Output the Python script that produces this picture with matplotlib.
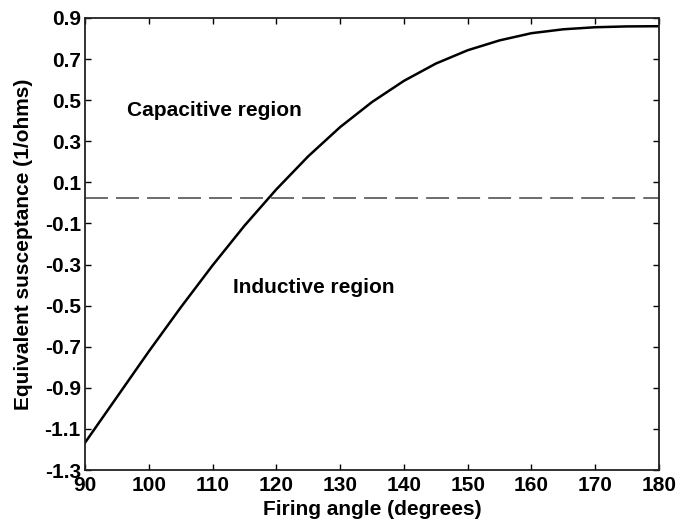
import matplotlib
matplotlib.use("Agg")
import matplotlib.pyplot as plt
import numpy as np

# firing angle (deg) vs equivalent susceptance (1/ohms)
angle = [90, 95, 100, 105, 110, 115, 120, 125, 130, 135, 140, 145, 150,
         155, 160, 165, 170, 175, 180]
suscept = [-1.167, -0.945, -0.723, -0.509, -0.304, -0.111, 0.066, 0.227,
           0.369, 0.491, 0.594, 0.678, 0.743, 0.791, 0.826, 0.845, 0.855,
           0.859, 0.860]
boundary = 0.026
xticks = list(range(90, 181, 10))
yticks = [-1.3, -1.1, -0.9, -0.7, -0.5, -0.3, -0.1, 0.1, 0.3, 0.5, 0.7, 0.9]

plt.rcParams.update({"font.family": ["Liberation Sans", "DejaVu Sans"],
                     "font.weight": "bold", "font.size": 15})

fig = plt.figure(figsize=(6.78, 5.23), dpi=100)
ax = fig.add_axes([0.1254, 0.1013, 0.972 - 0.1254, 0.9656 - 0.1013])

ax.plot(angle, suscept, color="black", lw=1.8)
ax.plot([90, 180], [boundary, boundary], color="#444444", lw=1.1,
        dashes=(15, 5.3))

ax.text(96.6, 0.452, "Capacitive region", fontsize=15, fontweight="bold",
        va="center", ha="left")
ax.text(113.2, -0.414, "Inductive region", fontsize=15, fontweight="bold",
        va="center", ha="left")

ax.set_xlim(90, 180)
ax.set_ylim(-1.3, 0.9)
ax.set_xticks(xticks, [str(t) for t in xticks])
ax.set_yticks(yticks, [f"{t:.1f}" for t in yticks])
ax.tick_params(direction="in", top=True, right=True, length=4.5, width=1,
               labelsize=15, colors="black")
ax.tick_params(axis="y", pad=3)
ax.tick_params(axis="x", pad=4)
for s in ax.spines.values():
    s.set_linewidth(1.3)
    s.set_color("#222222")
ax.set_xlabel("Firing angle (degrees)", fontsize=15, fontweight="bold",
              labelpad=4)
ax.set_ylabel("Equivalent susceptance (1/ohms)", fontsize=15,
              fontweight="bold", labelpad=8)

fig.savefig("out.png", dpi=100)
